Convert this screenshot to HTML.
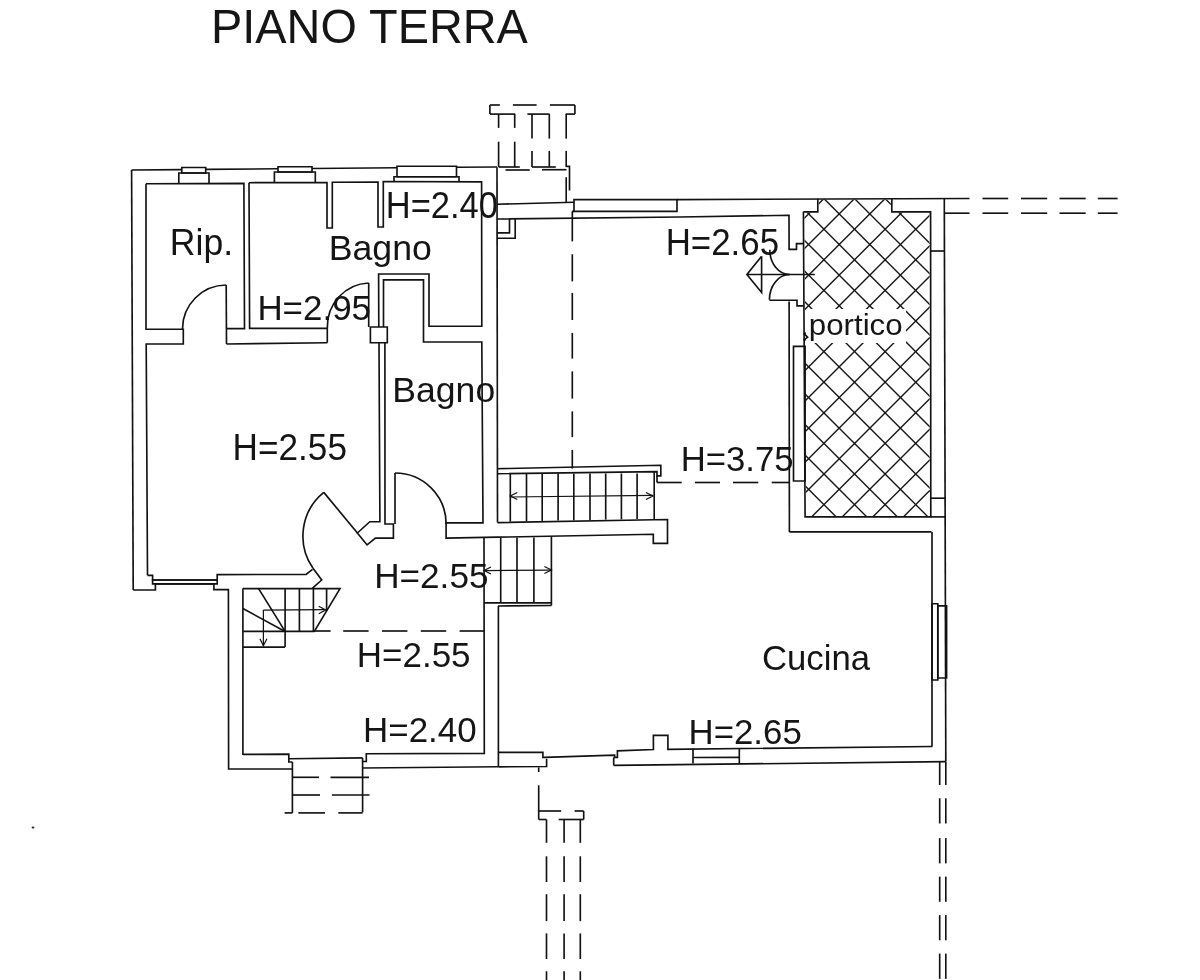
<!DOCTYPE html>
<html><head><meta charset="utf-8"><style>
html,body{margin:0;padding:0;background:#fff;}
svg{display:block;}
text{font-family:"Liberation Sans",sans-serif;fill:#141414;}
</style></head><body>
<svg width="1200" height="980" viewBox="0 0 1200 980">
<rect width="1200" height="980" fill="#fff"/>
<defs><clipPath id="pc"><polygon points="804.4,212.8 818.8,212.8 818.8,199.6 890.8,199.6 890.8,212.8 929.6,212.8 929.8,515.9 806.1,515.9"/></clipPath></defs>
<g clip-path="url(#pc)" stroke="#161616" stroke-width="1.4">
<line x1="474.7" y1="150" x2="24.7" y2="600"/>
<line x1="377.5" y1="150" x2="827.5" y2="600"/>
<line x1="505.3" y1="150" x2="55.3" y2="600"/>
<line x1="408.1" y1="150" x2="858.1" y2="600"/>
<line x1="535.9" y1="150" x2="85.9" y2="600"/>
<line x1="438.7" y1="150" x2="888.7" y2="600"/>
<line x1="566.5" y1="150" x2="116.5" y2="600"/>
<line x1="469.3" y1="150" x2="919.3" y2="600"/>
<line x1="597.1" y1="150" x2="147.1" y2="600"/>
<line x1="499.9" y1="150" x2="949.9" y2="600"/>
<line x1="627.7" y1="150" x2="177.7" y2="600"/>
<line x1="530.5" y1="150" x2="980.5" y2="600"/>
<line x1="658.3" y1="150" x2="208.3" y2="600"/>
<line x1="561.1" y1="150" x2="1011.1" y2="600"/>
<line x1="688.9" y1="150" x2="238.9" y2="600"/>
<line x1="591.7" y1="150" x2="1041.7" y2="600"/>
<line x1="719.5" y1="150" x2="269.5" y2="600"/>
<line x1="622.3" y1="150" x2="1072.3" y2="600"/>
<line x1="750.1" y1="150" x2="300.1" y2="600"/>
<line x1="652.9" y1="150" x2="1102.9" y2="600"/>
<line x1="780.7" y1="150" x2="330.7" y2="600"/>
<line x1="683.5" y1="150" x2="1133.5" y2="600"/>
<line x1="811.3" y1="150" x2="361.3" y2="600"/>
<line x1="714.1" y1="150" x2="1164.1" y2="600"/>
<line x1="841.9" y1="150" x2="391.9" y2="600"/>
<line x1="744.7" y1="150" x2="1194.7" y2="600"/>
<line x1="872.5" y1="150" x2="422.5" y2="600"/>
<line x1="775.3" y1="150" x2="1225.3" y2="600"/>
<line x1="903.1" y1="150" x2="453.1" y2="600"/>
<line x1="805.9" y1="150" x2="1255.9" y2="600"/>
<line x1="933.7" y1="150" x2="483.7" y2="600"/>
<line x1="836.5" y1="150" x2="1286.5" y2="600"/>
<line x1="964.3" y1="150" x2="514.3" y2="600"/>
<line x1="867.1" y1="150" x2="1317.1" y2="600"/>
<line x1="994.9" y1="150" x2="544.9" y2="600"/>
<line x1="897.7" y1="150" x2="1347.7" y2="600"/>
<line x1="1025.5" y1="150" x2="575.5" y2="600"/>
<line x1="928.3" y1="150" x2="1378.3" y2="600"/>
<line x1="1056.1" y1="150" x2="606.1" y2="600"/>
<line x1="958.9" y1="150" x2="1408.9" y2="600"/>
<line x1="1086.7" y1="150" x2="636.7" y2="600"/>
<line x1="989.5" y1="150" x2="1439.5" y2="600"/>
<line x1="1117.3" y1="150" x2="667.3" y2="600"/>
<line x1="1020.1" y1="150" x2="1470.1" y2="600"/>
<line x1="1147.9" y1="150" x2="697.9" y2="600"/>
<line x1="1050.7" y1="150" x2="1500.7" y2="600"/>
<line x1="1178.5" y1="150" x2="728.5" y2="600"/>
<line x1="1081.3" y1="150" x2="1531.3" y2="600"/>
<line x1="1209.1" y1="150" x2="759.1" y2="600"/>
<line x1="1111.9" y1="150" x2="1561.9" y2="600"/>
<line x1="1239.7" y1="150" x2="789.7" y2="600"/>
<line x1="1142.5" y1="150" x2="1592.5" y2="600"/>
<line x1="1270.3" y1="150" x2="820.3" y2="600"/>
<line x1="1173.1" y1="150" x2="1623.1" y2="600"/>
<line x1="1300.9" y1="150" x2="850.9" y2="600"/>
<line x1="1203.7" y1="150" x2="1653.7" y2="600"/>
<line x1="1331.5" y1="150" x2="881.5" y2="600"/>
<line x1="1234.3" y1="150" x2="1684.3" y2="600"/>
</g>
<rect x="806" y="309" width="100" height="34" fill="#fff"/>
<g fill="none" stroke="#121212" stroke-width="1.65" stroke-linejoin="miter">
<line x1="131.6" y1="170.0" x2="181.8" y2="169.6"/>
<line x1="205.7" y1="169.4" x2="278.0" y2="168.8"/>
<line x1="312.0" y1="168.5" x2="397.0" y2="167.8"/>
<line x1="456.5" y1="167.3" x2="497.0" y2="167.0"/>
<polygon points="181.8,167.5 205.7,167.5 205.7,173.0 181.8,173.0"/>
<polyline points="178.8,183.6 178.8,173.0 209.0,173.0 209.0,183.5"/>
<polygon points="278.0,166.7 312.0,166.7 312.0,172.0 278.0,172.0"/>
<polyline points="274.4,182.6 274.4,172.0 315.3,172.0 315.3,182.4"/>
<polygon points="397.0,166.2 456.5,166.2 456.5,176.7 397.0,176.7"/>
<polyline points="394.0,181.6 394.0,176.7 459.0,176.7 459.0,181.8"/>
<line x1="131.6" y1="170.0" x2="133.2" y2="590.0"/>
<polyline points="133.2,590.0 155.4,590.0 155.4,583.8 213.9,583.8 213.9,589.6 228.4,589.6 228.6,769.0 292.4,769.0"/>
<polyline points="147.5,575.3 152.6,575.3 152.6,580.0 217.2,580.0 217.2,574.6 306.1,574.4 312.5,569.3"/>
<polygon points="152.6,580.0 217.2,580.0 217.2,583.8 152.6,583.8"/>
<polyline points="146.0,183.7 243.9,183.3 244.5,328.6 226.0,328.6"/>
<polyline points="146.0,183.7 146.0,329.2 183.3,329.2 183.3,344.0 146.2,344.0 147.5,575.3"/>
<line x1="226.2" y1="285.0" x2="226.5" y2="344.0"/>
<path d="M 182.5 329 A 44 44 0 0 1 226.2 285"/>
<line x1="226.5" y1="344.0" x2="327.3" y2="342.7"/>
<polyline points="249.0,182.7 327.0,182.5 327.0,228.0 332.3,228.0 332.3,182.2 378.0,182.0 378.0,227.0 383.3,227.0 383.3,181.5 481.6,181.8 481.8,326.2 429.0,326.2 429.0,274.0 378.6,274.0 378.8,327.0"/>
<polyline points="249.0,182.7 249.6,328.3 327.3,328.3 327.3,342.7"/>
<line x1="368.7" y1="283.0" x2="368.7" y2="327.0"/>
<path d="M 327.3 328 A 43 44 0 0 1 368.7 283"/>
<polygon points="370.4,327.0 387.3,327.0 387.3,342.7 370.4,342.7"/>
<polyline points="383.5,327.0 383.5,279.8 423.5,279.8 423.5,342.0 481.8,342.0 483.0,522.9 446.1,522.9 446.1,538.1 653.3,534.3 653.3,543.3 667.5,543.3 667.5,519.5 497.5,522.6"/>
<polyline points="379.0,342.7 379.9,521.7 369.8,521.7 357.4,533.0 367.1,544.9 375.4,538.1 393.4,538.1 393.4,524.0 385.0,524.0 384.9,342.7"/>
<line x1="395.0" y1="473.0" x2="395.0" y2="524.0"/>
<path d="M 395 473 A 51 51 0 0 1 446.1 524"/>
<line x1="497.0" y1="167.3" x2="497.5" y2="522.6"/>
<line x1="357.4" y1="533.0" x2="323.8" y2="492.4"/>
<path d="M 323.8 492.4 A 56.2 56.2 0 0 0 313.0 568.2"/>
<polyline points="313.0,568.2 321.7,580.0 312.5,588.2"/>
<polyline points="242.9,588.6 340.0,588.6 314.3,631.4 242.9,631.4"/>
<line x1="242.9" y1="647.1" x2="285.1" y2="647.1"/>
<line x1="285.1" y1="588.6" x2="285.1" y2="647.1"/>
<line x1="299.4" y1="588.6" x2="299.4" y2="631.4"/>
<line x1="313.4" y1="588.6" x2="313.4" y2="631.4"/>
<line x1="326.6" y1="588.6" x2="326.6" y2="611.0"/>
<line x1="258.6" y1="588.6" x2="285.1" y2="631.4"/>
<line x1="242.9" y1="608.6" x2="285.1" y2="631.4"/>
<polyline points="263.4,610.0 325.7,609.5" stroke-width="1.25"/>
<polyline points="318.7,606.3 325.7,610.0 318.7,613.7" stroke-width="1.25"/>
<polyline points="263.4,610.0 263.4,645.7" stroke-width="1.25"/>
<polyline points="259.9,638.7 263.4,645.7 266.9,638.7" stroke-width="1.25"/>
<line x1="314.3" y1="631.0" x2="330.6" y2="631.0"/>
<line x1="343.2" y1="631.0" x2="368.6" y2="631.0"/>
<line x1="382.0" y1="631.0" x2="407.4" y2="631.0"/>
<line x1="420.8" y1="631.0" x2="446.2" y2="631.0"/>
<line x1="459.6" y1="631.0" x2="484.0" y2="631.0"/>
<line x1="242.9" y1="588.6" x2="242.9" y2="754.9"/>
<polyline points="242.9,754.4 288.8,754.2 288.8,762.0 292.4,762.0"/>
<line x1="288.8" y1="758.8" x2="362.6" y2="757.9"/>
<polyline points="362.6,757.9 362.6,761.5 366.3,761.5 366.3,753.7 484.3,753.4 484.0,537.6"/>
<line x1="292.4" y1="762.0" x2="292.4" y2="812.9"/>
<line x1="362.6" y1="761.5" x2="362.6" y2="812.4"/>
<polyline points="362.6,768.0 498.4,766.8"/>
<line x1="292.4" y1="777.3" x2="319.0" y2="777.3"/>
<line x1="330.5" y1="777.3" x2="369.0" y2="777.3"/>
<line x1="292.4" y1="795.0" x2="320.0" y2="795.0"/>
<line x1="331.9" y1="795.0" x2="369.5" y2="795.0"/>
<line x1="284.6" y1="812.9" x2="292.4" y2="812.9"/>
<line x1="298.4" y1="812.9" x2="325.0" y2="812.9"/>
<line x1="338.3" y1="812.9" x2="362.6" y2="812.9"/>
<line x1="500.7" y1="537.6" x2="500.7" y2="602.8"/>
<line x1="517.0" y1="537.6" x2="517.0" y2="602.8"/>
<line x1="533.9" y1="537.6" x2="533.9" y2="602.8"/>
<line x1="551.4" y1="536.5" x2="551.4" y2="605.5"/>
<line x1="484.0" y1="602.8" x2="551.4" y2="602.8"/>
<line x1="498.0" y1="606.0" x2="551.4" y2="605.5"/>
<line x1="498.4" y1="606.0" x2="498.4" y2="766.8"/>
<polyline points="484.0,570.5 551.4,570.0" stroke-width="1.25"/>
<polyline points="491.0,567.0 484.0,570.5 491.0,574.0" stroke-width="1.25"/>
<polyline points="544.4,566.5 551.4,570.0 544.4,573.5" stroke-width="1.25"/>
<polyline points="497.5,468.7 660.8,465.3 660.8,475.8 657.0,475.8 657.0,471.7 497.5,473.7"/>
<line x1="657.0" y1="475.8" x2="657.0" y2="482.5"/>
<line x1="510.3" y1="473.5" x2="510.3" y2="521.5"/>
<line x1="526.5" y1="473.5" x2="526.5" y2="521.2"/>
<line x1="542.2" y1="473.5" x2="542.2" y2="520.9"/>
<line x1="558.1" y1="473.5" x2="558.1" y2="520.6"/>
<line x1="573.8" y1="473.5" x2="573.8" y2="520.3"/>
<line x1="590.0" y1="473.5" x2="590.0" y2="519.9"/>
<line x1="605.7" y1="473.5" x2="605.7" y2="519.6"/>
<line x1="621.4" y1="473.5" x2="621.4" y2="519.3"/>
<line x1="637.1" y1="473.5" x2="637.1" y2="519.0"/>
<line x1="654.2" y1="471.7" x2="654.2" y2="519.6"/>
<polyline points="510.3,497.0 652.9,495.4" stroke-width="1.25"/>
<polyline points="517.3,492.5 510.3,496.0 517.3,499.5" stroke-width="1.25"/>
<polyline points="645.9,492.5 652.9,496.0 645.9,499.5" stroke-width="1.25"/>
<line x1="657.0" y1="482.5" x2="681.7" y2="482.5"/>
<line x1="695.0" y1="482.5" x2="720.0" y2="482.5"/>
<line x1="733.0" y1="482.5" x2="758.3" y2="482.5"/>
<line x1="771.7" y1="482.5" x2="790.0" y2="482.5"/>
<line x1="572.3" y1="211.4" x2="572.3" y2="241.4"/>
<line x1="572.3" y1="254.3" x2="572.3" y2="281.4"/>
<line x1="572.3" y1="292.9" x2="572.3" y2="320.0"/>
<line x1="572.3" y1="332.9" x2="572.3" y2="358.6"/>
<line x1="572.3" y1="371.4" x2="572.3" y2="398.6"/>
<line x1="572.3" y1="411.4" x2="572.3" y2="437.1"/>
<line x1="572.3" y1="450.0" x2="572.3" y2="468.6"/>
<line x1="489.9" y1="105.0" x2="499.9" y2="105.0"/>
<line x1="512.9" y1="105.0" x2="536.6" y2="105.0"/>
<line x1="549.9" y1="105.0" x2="574.9" y2="105.0"/>
<line x1="489.9" y1="105.0" x2="489.9" y2="114.1"/>
<line x1="574.9" y1="105.0" x2="574.9" y2="114.1"/>
<line x1="489.9" y1="114.1" x2="515.2" y2="114.1"/>
<line x1="527.4" y1="114.1" x2="549.6" y2="114.1"/>
<line x1="565.7" y1="114.1" x2="574.9" y2="114.1"/>
<line x1="498.6" y1="114.1" x2="498.6" y2="127.9"/>
<line x1="498.6" y1="141.7" x2="498.6" y2="167.0"/>
<line x1="514.7" y1="114.1" x2="514.7" y2="127.9"/>
<line x1="514.7" y1="141.7" x2="514.7" y2="167.0"/>
<line x1="532.0" y1="114.1" x2="532.0" y2="138.6"/>
<line x1="532.0" y1="150.9" x2="532.0" y2="167.0"/>
<line x1="549.3" y1="114.1" x2="549.3" y2="138.6"/>
<line x1="549.3" y1="150.9" x2="549.3" y2="167.0"/>
<line x1="566.2" y1="114.1" x2="566.2" y2="138.6"/>
<line x1="566.2" y1="150.9" x2="566.2" y2="167.0"/>
<line x1="498.6" y1="167.0" x2="519.8" y2="167.0"/>
<line x1="505.5" y1="170.0" x2="529.7" y2="170.0"/>
<line x1="532.0" y1="167.0" x2="555.8" y2="167.0"/>
<line x1="542.0" y1="169.7" x2="566.5" y2="169.7"/>
<polyline points="566.2,166.3 569.5,166.3 569.5,190.5"/>
<line x1="566.2" y1="177.2" x2="566.2" y2="202.7"/>
<polyline points="497.0,204.3 574.0,202.2"/>
<polygon points="574.0,199.6 677.0,199.6 677.0,211.4 574.0,211.4"/>
<line x1="572.0" y1="211.4" x2="574.0" y2="211.4"/>
<polyline points="497.0,219.0 680.0,217.0 789.0,215.3 789.1,249.3 796.5,249.3 796.5,243.6 803.4,243.6"/>
<polyline points="497.0,232.8 509.5,232.8 509.5,218.5"/>
<polyline points="497.0,238.2 515.2,238.2 515.2,218.3"/>
<line x1="677.0" y1="199.6" x2="969.5" y2="198.5"/>
<line x1="982.5" y1="198.5" x2="1008.2" y2="198.5"/>
<line x1="1021.0" y1="198.5" x2="1047.2" y2="198.5"/>
<line x1="1059.5" y1="198.5" x2="1085.7" y2="198.5"/>
<line x1="1097.8" y1="198.5" x2="1117.6" y2="198.5"/>
<line x1="944.3" y1="213.2" x2="969.5" y2="213.2"/>
<line x1="982.5" y1="213.2" x2="1008.2" y2="213.2"/>
<line x1="1021.0" y1="213.2" x2="1047.2" y2="213.2"/>
<line x1="1059.5" y1="213.2" x2="1085.7" y2="213.2"/>
<line x1="1097.8" y1="213.2" x2="1117.6" y2="213.2"/>
<line x1="944.3" y1="198.6" x2="945.8" y2="761.5"/>
<polyline points="803.4,211.8 817.8,211.8 817.8,198.8"/>
<polyline points="891.8,198.6 891.8,211.8 930.6,211.8 930.8,516.9 805.1,516.9 803.4,211.8"/>
<line x1="930.8" y1="516.9" x2="945.4" y2="516.9"/>
<line x1="930.6" y1="251.0" x2="944.3" y2="251.0"/>
<line x1="930.8" y1="498.2" x2="945.4" y2="498.2"/>
<path d="M 769.8 249.7 A 19.8 24.8 0 0 0 789.6 274.5"/>
<path d="M 789.6 274.5 A 20.2 25.3 0 0 0 769.4 299.8"/>
<polyline points="769.4,300.2 797.0,300.2 797.0,305.8 803.4,305.8"/>
<line x1="746.9" y1="274.5" x2="814.8" y2="274.5"/>
<polyline points="761.6,256.2 746.9,274.5 761.6,292.4 761.6,256.2"/>
<line x1="789.1" y1="301.6" x2="789.4" y2="531.9"/>
<polygon points="793.5,346.3 805.1,346.3 805.1,481.0 793.5,481.0"/>
<line x1="789.4" y1="531.9" x2="931.5" y2="531.9"/>
<line x1="932.0" y1="531.9" x2="932.0" y2="746.4"/>
<polygon points="932.0,603.7 937.8,603.7 937.8,680.0 932.0,680.0"/>
<polygon points="937.8,605.8 946.6,605.8 946.6,678.0 937.8,678.0"/>
<polyline points="498.4,752.3 542.9,752.3 542.9,757.4 544.6,757.4 614.6,755.2 614.6,757.4 617.4,757.4 617.4,750.9 653.4,749.5 653.4,735.3 667.9,735.3 667.9,749.3 932.3,746.5"/>
<polyline points="498.4,766.8 546.6,766.5 546.6,758.8"/>
<polyline points="613.7,765.4 945.8,761.6"/>
<line x1="613.7" y1="757.4" x2="613.7" y2="765.4"/>
<line x1="693.0" y1="748.8" x2="693.0" y2="763.6"/>
<line x1="739.3" y1="748.6" x2="739.3" y2="763.2"/>
<line x1="693.0" y1="757.5" x2="739.3" y2="757.3"/>
<line x1="939.7" y1="761.7" x2="939.7" y2="785.0"/>
<line x1="939.7" y1="798.3" x2="939.7" y2="823.5"/>
<line x1="939.7" y1="838.1" x2="939.7" y2="863.4"/>
<line x1="939.7" y1="876.6" x2="939.7" y2="901.8"/>
<line x1="939.7" y1="915.1" x2="939.7" y2="940.3"/>
<line x1="939.7" y1="953.6" x2="939.7" y2="978.8"/>
<line x1="945.8" y1="761.7" x2="945.8" y2="785.0"/>
<line x1="945.8" y1="798.3" x2="945.8" y2="823.5"/>
<line x1="945.8" y1="838.1" x2="945.8" y2="863.4"/>
<line x1="945.8" y1="876.6" x2="945.8" y2="901.8"/>
<line x1="945.8" y1="915.1" x2="945.8" y2="940.3"/>
<line x1="945.8" y1="953.6" x2="945.8" y2="978.8"/>
<polyline points="803.5,333.2 807.6,337.2 803.5,340.3"/>
<ellipse cx="33" cy="827.5" rx="1.4" ry="1" fill="#222" stroke="none"/>
<line x1="538.7" y1="767.4" x2="538.7" y2="772.0"/>
<line x1="538.7" y1="785.3" x2="538.7" y2="811.0"/>
<line x1="538.7" y1="811.0" x2="561.2" y2="811.0"/>
<line x1="574.6" y1="811.0" x2="583.7" y2="811.0"/>
<line x1="538.7" y1="811.0" x2="538.7" y2="819.5"/>
<line x1="583.7" y1="811.0" x2="583.7" y2="819.5"/>
<line x1="538.7" y1="819.5" x2="546.5" y2="819.5"/>
<line x1="558.7" y1="819.5" x2="583.7" y2="819.5"/>
<line x1="546.5" y1="819.5" x2="546.5" y2="842.8"/>
<line x1="546.5" y1="856.3" x2="546.5" y2="882.0"/>
<line x1="546.5" y1="894.2" x2="546.5" y2="921.1"/>
<line x1="546.5" y1="933.4" x2="546.5" y2="959.0"/>
<line x1="546.5" y1="971.3" x2="546.5" y2="980.0"/>
<line x1="564.1" y1="819.5" x2="564.1" y2="842.8"/>
<line x1="564.1" y1="856.3" x2="564.1" y2="882.0"/>
<line x1="564.1" y1="894.2" x2="564.1" y2="921.1"/>
<line x1="564.1" y1="933.4" x2="564.1" y2="959.0"/>
<line x1="564.1" y1="971.3" x2="564.1" y2="980.0"/>
<line x1="580.3" y1="819.5" x2="580.3" y2="842.8"/>
<line x1="580.3" y1="856.3" x2="580.3" y2="882.0"/>
<line x1="580.3" y1="894.2" x2="580.3" y2="921.1"/>
<line x1="580.3" y1="933.4" x2="580.3" y2="959.0"/>
<line x1="580.3" y1="971.3" x2="580.3" y2="980.0"/>
</g>
<g opacity="0.995">
<text transform="translate(211.05 43.2) scale(0.4686 0.4884)" font-size="100">PIANO TERRA</text>
<text transform="translate(169.85 255.0) scale(0.3559 0.3634)" font-size="100">Rip.</text>
<text transform="translate(328.64 259.6) scale(0.357 0.3547)" font-size="100">Bagno</text>
<text transform="translate(385.74 217.8) scale(0.345 0.3634)" font-size="100">H=2.40</text>
<text transform="translate(257.41 320.5) scale(0.3492 0.359)" font-size="100">H=2.95</text>
<text transform="translate(392.36 401.6) scale(0.3556 0.359)" font-size="100">Bagno</text>
<text transform="translate(232.59 459.9) scale(0.3518 0.3692)" font-size="100">H=2.55</text>
<text transform="translate(665.71 254.7) scale(0.3486 0.3619)" font-size="100">H=2.65</text>
<text transform="translate(808.81 334.7) scale(0.3128 0.3028)" font-size="100">portico</text>
<text transform="translate(680.72 471.4) scale(0.3473 0.3561)" font-size="100">H=3.75</text>
<text transform="translate(374.19 587.5) scale(0.3514 0.359)" font-size="100">H=2.55</text>
<text transform="translate(356.8 666.9) scale(0.3498 0.3561)" font-size="100">H=2.55</text>
<text transform="translate(363.11 742.0) scale(0.3492 0.3561)" font-size="100">H=2.40</text>
<text transform="translate(761.96 670.2) scale(0.3474 0.3445)" font-size="100">Cucina</text>
<text transform="translate(688.51 743.5) scale(0.3482 0.3518)" font-size="100">H=2.65</text>
</g>
</svg>
</body></html>
